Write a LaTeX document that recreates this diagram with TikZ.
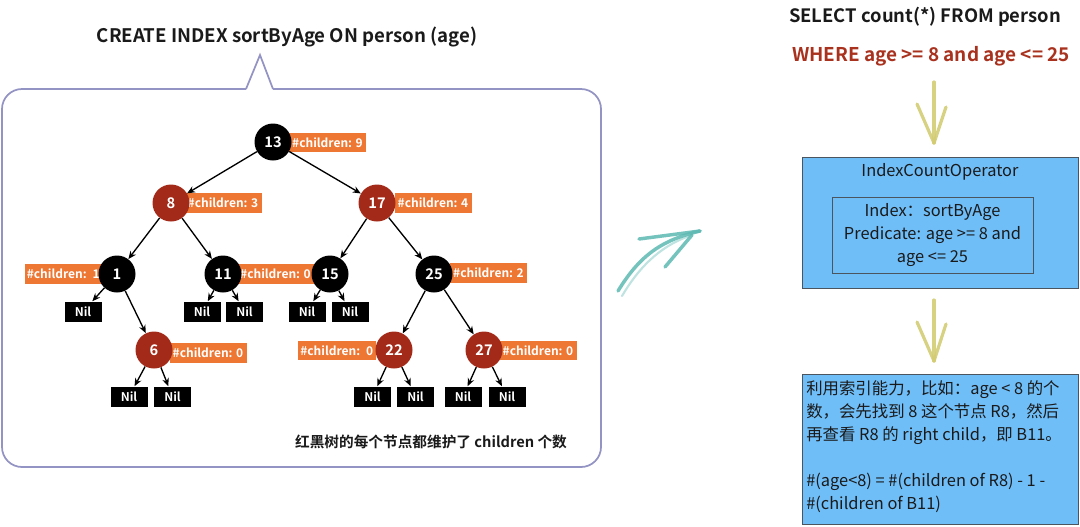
\documentclass[tikz,border=0pt]{standalone}
\usepackage{fontspec}
\setmainfont{Noto Sans CJK SC}[BoldFont={Noto Sans CJK SC Bold}]
\usetikzlibrary{arrows.meta}
\definecolor{rbred}{HTML}{A32A19}
\definecolor{lblorange}{HTML}{EE7733}
\definecolor{framec}{HTML}{9494C4}
\definecolor{opblue}{HTML}{70BEF8}
\definecolor{boxline}{HTML}{4A5560}
\definecolor{sqlred}{HTML}{A8321E}
\definecolor{txtdark}{HTML}{1A1A1A}
\definecolor{tealarrow}{HTML}{5DB8B2}
\definecolor{khaki}{HTML}{D3CC74}
\begin{document}
\begin{tikzpicture}[x=0.75pt,y=-0.75pt,
  blk/.style={circle,fill=black,text=white,font=\fontsize{11}{12}\selectfont\bfseries,minimum size=27.75pt,inner sep=0pt},
  rd/.style={blk,fill=rbred},
  cnt/.style={fill=lblorange,text=white,font=\fontsize{9}{10}\selectfont\bfseries,minimum width=57.75pt,minimum height=14.5pt,inner sep=0pt},
  cntl/.style={cnt,text width=55pt,align=left,inner xsep=1.5pt},
  nil/.style={fill=black,text=white,font=\fontsize{9}{10}\selectfont\bfseries,minimum width=27.75pt,minimum height=15pt,inner sep=0pt},
  tedge/.style={-{Stealth[length=6pt,width=5pt]},line width=1pt},
  frame/.style={draw=framec,line width=1.3pt},
  handteal/.style={draw=tealarrow,line width=2.6pt,line cap=round,opacity=0.85},
  handkhaki/.style={draw=khaki,line width=2.4pt,line cap=round,opacity=0.9},
  opbox/.style={draw=boxline,fill=opblue,line width=0.6pt,inner sep=0pt},
  inbox/.style={draw=boxline,line width=0.6pt,inner sep=0pt},
  headtxt/.style={font=\fontsize{14}{16}\selectfont\bfseries,text=txtdark,inner sep=0pt},
  boxtxt/.style={font=\fontsize{12.3}{17.4}\selectfont,text=txtdark,inner sep=0pt},
]
\useasboundingbox (0,0) rectangle (1080,526);

% title and callout frame
\node[headtxt] (title) at (287,37) {CREATE INDEX sortByAge ON person (age)};
\draw[frame,rounded corners=15pt] (246,89) -- (2,89) -- (2,467) -- (601,467) -- (601,89) -- (273,89);
\draw[frame,line join=miter] (246,89) -- (260,55) -- (273,89);

% orange count labels (behind circles)
\node[cnt] (c13) at (327.5,142.5) {\#children: 9};
\node[cnt] (c8)  at (223,203) {\#children: 3};
\node[cnt] (c17) at (433,203) {\#children: 4};
\node[cntl] (c1)  at (63.5,274) {\#children: 1};
\node[cnt] (c11) at (275.5,274) {\#children: 0};
\node[cnt] (c25) at (488.5,273) {\#children: 2};
\node[cnt] (c6)  at (208,353) {\#children: 0};
\node[cntl] (c22) at (337,350.5) {\#children: 0};
\node[cnt] (c27) at (538,350.5) {\#children: 0};

% tree nodes
\node[blk] (n13) at (273,142) {13};
\node[rd]  (n8)  at (171,203) {8};
\node[rd]  (n17) at (377,203) {17};
\node[blk] (n1)  at (117,274) {1};
\node[blk] (n11) at (223,274) {11};
\node[blk] (n15) at (330,274) {15};
\node[blk] (n25) at (434,274) {25};
\node[rd]  (n6)  at (154,350) {6};
\node[rd]  (n22) at (394,350) {22};
\node[rd]  (n27) at (484,350) {27};

% nil leaves
\node[nil] (l1)  at (83,311.5) {Nil};
\node[nil] (l11a) at (202,311.5) {Nil};
\node[nil] (l11b) at (244.5,311.5) {Nil};
\node[nil] (l15a) at (307,311.5) {Nil};
\node[nil] (l15b) at (350,311.5) {Nil};
\node[nil] (l6a) at (129,396.5) {Nil};
\node[nil] (l6b) at (172.5,396.5) {Nil};
\node[nil] (l22a) at (372.5,396.5) {Nil};
\node[nil] (l22b) at (415.5,396.5) {Nil};
\node[nil] (l27a) at (463,396.5) {Nil};
\node[nil] (l27b) at (507,396.5) {Nil};

% edges
\draw[tedge] (n13) -- (n8);
\draw[tedge] (n13) -- (n17);
\draw[tedge] (n8) -- (n1);
\draw[tedge] (n8) -- (n11);
\draw[tedge] (n17) -- (n15);
\draw[tedge] (n17) -- (n25);
\draw[tedge] (n1) -- (l1);
\draw[tedge] (n1) -- (n6);
\draw[tedge] (n11) -- (l11a);
\draw[tedge] (n11) -- (l11b);
\draw[tedge] (n15) -- (l15a);
\draw[tedge] (n15) -- (l15b);
\draw[tedge] (n25) -- (n22);
\draw[tedge] (n25) -- (n27);
\draw[tedge] (n6) -- (l6a);
\draw[tedge] (n6) -- (l6b);
\draw[tedge] (n22) -- (l22a);
\draw[tedge] (n22) -- (l22b);
\draw[tedge] (n27) -- (l27a);
\draw[tedge] (n27) -- (l27b);

\node[font=\fontsize{11}{13}\selectfont\bfseries,text=txtdark,inner sep=0pt] (cap) at (431,442) {红黑树的每个节点都维护了 children 个数};

% teal hand-drawn arrow
\coordinate (ta0) at (618,291);
\coordinate (ta1) at (700,231);
\coordinate (ta2) at (639,239);
\coordinate (ta3) at (665,267);
\coordinate (ta4) at (692,235);
\draw[handteal] (ta0) .. controls (640,255) and (662,240) .. (ta1);
\draw[handteal,opacity=0.4,line width=1.6pt] (622,296) .. controls (642,262) and (665,244) .. (ta4);
\draw[handteal] (ta2) -- (ta1);
\draw[handteal] (ta3) -- (ta4);

% right side
\node[headtxt,font=\fontsize{13.8}{16}\selectfont\bfseries] (sel) at (925,17) {SELECT count(*) FROM person};
\node[headtxt,text=sqlred,font=\fontsize{14.2}{16}\selectfont\bfseries] (where) at (931,56) {WHERE age >= 8 and age <= 25};

\coordinate (ya0) at (934,82);
\coordinate (ya1) at (934,143);
\coordinate (ya2) at (917,104);
\coordinate (ya3) at (946,107);
\draw[handkhaki] (ya0) -- (ya1);
\draw[handkhaki] (ya2) -- (ya1);
\draw[handkhaki] (ya3) -- (ya1);

\node[opbox,minimum width=207pt,minimum height=98.25pt] (op) at (940,222.5) {};
\node[boxtxt] (optitle) at (940,172) {IndexCountOperator};
\node[inbox,minimum width=150.75pt,minimum height=57pt] (inner) at (932.5,235) {};
\node[boxtxt,align=center] (pred) at (932.5,235) {Index：sortByAge\\Predicate: age >= 8 and\\age <= 25};

\coordinate (yb0) at (934,300);
\coordinate (yb1) at (934,361);
\coordinate (yb2) at (917,322);
\coordinate (yb3) at (946,324);
\draw[handkhaki] (yb0) -- (yb1);
\draw[handkhaki] (yb2) -- (yb1);
\draw[handkhaki] (yb3) -- (yb1);

\node[opbox,minimum width=207pt,minimum height=112.5pt] (expl) at (940,449) {};
\node[boxtxt,align=left,anchor=north west] (expltxt) at (806,380) {利用索引能力，比如：age < 8 的个\\数，会先找到 8 这个节点 R8，然后\\再查看 R8 的 right child，即 B11。\\[17pt]\#(age<8) = \#(children of R8) - 1 -\\\#(children of B11)};
\end{tikzpicture}
\end{document}
